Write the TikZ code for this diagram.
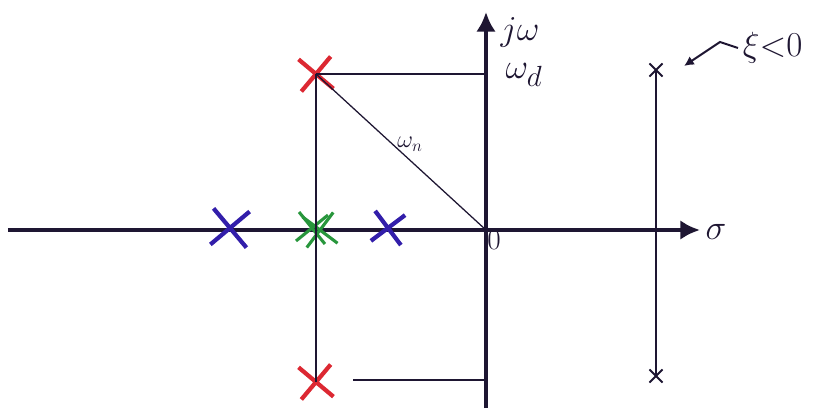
\documentclass[tikz,border=0pt]{standalone}
\usepackage{amsmath}
\usetikzlibrary{arrows.meta,positioning,shapes.misc}
\definecolor{inkdark}{RGB}{30,22,50}
\definecolor{inkblue}{RGB}{50,30,170}
\definecolor{inkgreen}{RGB}{40,150,60}
\definecolor{inkred}{RGB}{220,40,50}

\begin{document}
\begin{tikzpicture}[
        axis/.style={line width=3.5pt, inkdark, -{Latex[length=14pt, width=14pt]}},
        guide/.style={line width=0.9pt, inkdark},
        pole/.style={cross out, draw, line width=3pt, minimum size=0.7cm, inner sep=0pt},
        smallpole/.style={cross out, draw=inkdark, line width=1.3pt, minimum size=0.28cm, inner sep=0pt},
        lbl/.style={inkdark, font=\Huge}
      ]
        \useasboundingbox (-12.15,-4.55) rectangle (8.45,5.75);

        % axes
        \coordinate (re0) at (-11.95,0);
        \coordinate (re1) at (5.35,0);
        \coordinate (im0) at (0,-4.45);
        \coordinate (im1) at (0,5.45);
        \coordinate (o) at (0,0);
        \draw[axis] (re0) -- (re1);
        \draw[axis] (im0) -- (im1);

        % complex pair and real poles
        \node[pole, inkred, rotate=5]   (pt) at (-4.25, 3.9) {};
        \node[pole, inkred, rotate=5]   (pb) at (-4.25,-3.8) {};
        \node[pole, inkblue, minimum size=0.8cm, rotate=-5] (b1) at (-6.4, 0.05) {};
        \node[pole, inkblue, minimum size=0.65cm, rotate=-8] (b2) at (-2.45, 0.05) {};
        \node[pole, inkgreen, line width=2.2pt, minimum size=0.7cm, rotate=8]  (g1) at (-4.15,0) {};
        \node[pole, inkgreen, line width=2.2pt, minimum size=0.65cm, rotate=-6] (g2) at (-4.35,0.05) {};

        \coordinate (wd) at (0, 3.9);
        \coordinate (bl) at (-3.32,-3.75);
        \coordinate (br) at (0,-3.75);
        \draw[guide] (pt.center) -- (pb.center);
        \draw[guide] (pt.center) -- (wd);
        \draw[guide] (bl) -- (br);
        \draw[guide] (pt.center) -- (o);

        % unstable pair
        \node[smallpole] (ut) at (4.25, 4.0) {};
        \node[smallpole] (ub) at (4.25,-3.65) {};
        \draw[guide] (ut.center) -- (ub.center);

        % labels
        \node[lbl] (jw) at (0.85, 4.95) {$j\omega$};
        \node[lbl] (wdl) at (0.95, 3.88) {$\omega_d$};
        \node[inkdark, font=\LARGE] (wn) at (-1.9, 2.15) {$\omega_n$};
        \node[inkdark, font=\huge] (zero) at (0.2,-0.25) {$0$};
        \node[lbl] (sig) at (5.75,-0.05) {$\sigma$};
        \node[inkdark, font=\Huge, anchor=west] (xi) at (6.3, 4.55) {$\xi{<}0$};
        \draw[line width=1.4pt, inkdark, -{Latex[length=7pt, width=7pt]}]
          (xi.west) -- ++(-0.45,0.15) -- (4.95, 4.1);
      \end{tikzpicture}
\end{document}
